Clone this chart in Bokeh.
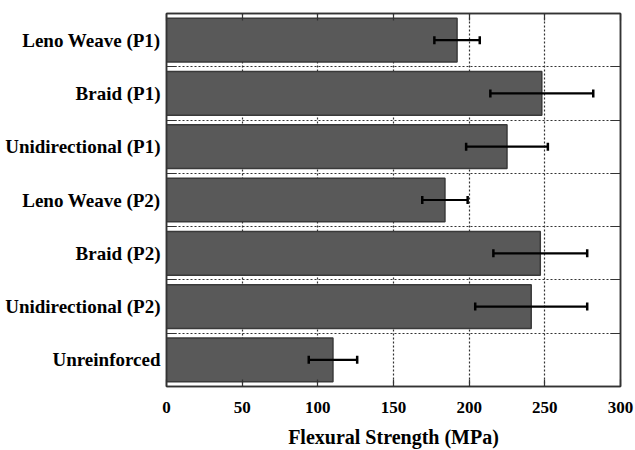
from bokeh.plotting import figure
from bokeh.models import Range1d, FixedTicker, LinearAxis, ColumnDataSource
from bokeh.embed import file_html
from bokeh.resources import INLINE

categories = ["Leno Weave (P1)", "Braid (P1)", "Unidirectional (P1)",
              "Leno Weave (P2)", "Braid (P2)", "Unidirectional (P2)", "Unreinforced"]
strength = [192, 248, 225, 184, 247, 241, 110]
error = [15, 34, 27, 15, 31, 37, 16]
x_ticks = [0, 50, 100, 150, 200, 250, 300]

n = len(categories)
ypos = list(range(n))
lower = [s - e for s, e in zip(strength, error)]
upper = [s + e for s, e in zip(strength, error)]
src = ColumnDataSource(dict(y=ypos, s=strength, lo=lower, hi=upper,
                            cap_lo=[y - 0.075 for y in ypos],
                            cap_hi=[y + 0.075 for y in ypos]))

FONT = "Liberation Serif"
DARK = "#333333"

p = figure(width=635, height=450, output_backend="svg", toolbar_location=None,
           x_range=Range1d(0, 300), y_range=Range1d(n - 0.5, -0.5),
           min_border_left=166, min_border_right=15, min_border_top=13,
           min_border_bottom=64, x_axis_location="below")
p.outline_line_color = DARK
p.outline_line_width = 1.5
p.background_fill_color = "white"
p.border_fill_color = "white"

# bars
p.hbar(y="y", left=0, right="s", height=0.82, source=src,
       fill_color="#595959", line_color="#3a3a3a", line_width=1.5)
# error bars
p.segment(x0="lo", x1="hi", y0="y", y1="y", source=src, line_color="black", line_width=2.2)
p.segment(x0="lo", x1="lo", y0="cap_lo", y1="cap_hi", source=src, line_color="black", line_width=2.5)
p.segment(x0="hi", x1="hi", y0="cap_lo", y1="cap_hi", source=src, line_color="black", line_width=2.5)

# x axis
xa = p.xaxis[0]
xa.ticker = FixedTicker(ticks=x_ticks)
xa.major_tick_in = 7
xa.major_tick_out = 0
xa.minor_tick_line_color = None
xa.axis_line_color = DARK
xa.axis_line_width = 1.5
xa.major_tick_line_color = DARK
xa.major_tick_line_width = 1.2
xa.major_label_text_font = FONT
xa.major_label_text_font_style = "bold"
xa.major_label_text_font_size = "17px"
xa.major_label_text_color = "black"
xa.major_label_standoff = 15
xa.axis_label = "Flexural Strength (MPa)"
xa.axis_label_text_font = FONT
xa.axis_label_text_font_style = "bold"
xa.axis_label_text_font_size = "20px"
xa.axis_label_text_color = "black"
xa.axis_label_standoff = 10

# y axis
centers = [float(v) for v in ypos]
bounds = [i + 0.5 for i in range(n - 1)]
ya = p.yaxis[0]
ya.ticker = FixedTicker(ticks=centers, minor_ticks=bounds)
ya.major_label_overrides = {i: c for i, c in enumerate(categories)}
ya.major_tick_line_color = None
ya.major_tick_in = 0
ya.major_tick_out = 0
ya.minor_tick_in = 10
ya.minor_tick_out = 0
ya.minor_tick_line_color = DARK
ya.minor_tick_line_width = 1.2
ya.axis_line_color = DARK
ya.axis_line_width = 1.5
ya.major_label_text_font = FONT
ya.major_label_text_font_style = "bold"
ya.major_label_text_font_size = "19px"
ya.major_label_text_color = "black"
ya.major_label_standoff = 6

# top axis (ticks only)
ta = LinearAxis(ticker=FixedTicker(ticks=x_ticks), major_tick_in=7, major_tick_out=0,
                minor_tick_line_color=None, major_label_standoff=0,
                major_label_overrides={t: "" for t in x_ticks},
                axis_line_color=DARK, axis_line_width=1.5,
                major_tick_line_color=DARK, major_tick_line_width=1.2)
p.add_layout(ta, "above")

# right axis (ticks only)
ra = LinearAxis(ticker=FixedTicker(ticks=bounds), major_tick_in=10, major_tick_out=0,
                minor_tick_line_color=None, major_label_standoff=0,
                major_label_overrides={b: "" for b in bounds},
                axis_line_color=DARK, axis_line_width=1.5,
                major_tick_line_color=DARK, major_tick_line_width=1.2)
p.add_layout(ra, "right")

# grids
p.xgrid.ticker = FixedTicker(ticks=x_ticks)
p.xgrid.grid_line_color = DARK
p.xgrid.grid_line_dash = "2 2"
p.xgrid.grid_line_width = 1.2
p.ygrid.ticker = FixedTicker(ticks=bounds)
p.ygrid.grid_line_color = DARK
p.ygrid.grid_line_dash = "2 2"
p.ygrid.grid_line_width = 1.2

open("out.html", "w").write(file_html(p, INLINE))
